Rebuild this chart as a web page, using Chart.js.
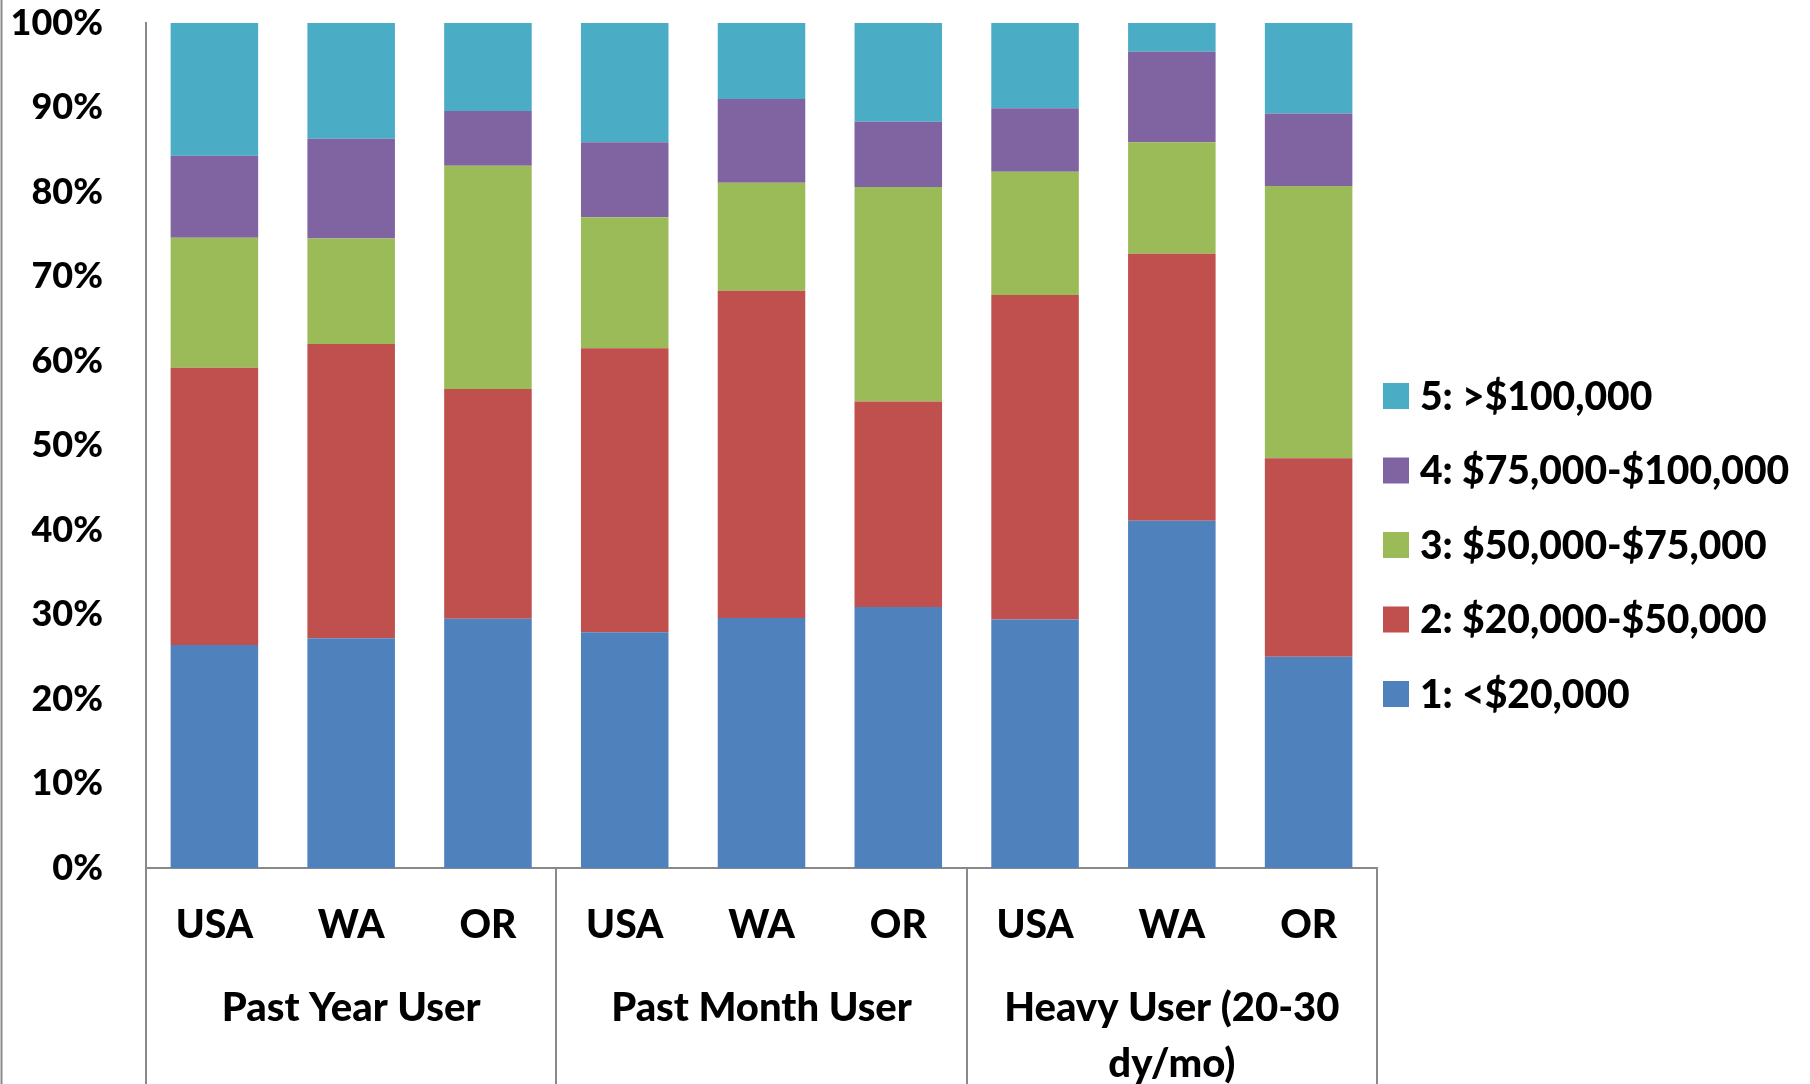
<!DOCTYPE html>
<html>
<head>
<meta charset="utf-8">
<script src="https://cdn.jsdelivr.net/npm/chart.js@4"></script>
<style>
  html, body { margin: 0; padding: 0; background: #fff; }
  #wrap { width: 1810px; height: 1084px; position: relative; }
</style>
</head>
<body>
<div id="wrap"><canvas id="incomeChart" width="1810" height="1084"></canvas></div>
<script>
// Categories
const states = ['USA', 'WA', 'OR', 'USA', 'WA', 'OR', 'USA', 'WA', 'OR'];
const groups = ['Past Year User', 'Past Month User', ['Heavy User (20-30', 'dy/mo)']];
const yTicks = [0, 10, 20, 30, 40, 50, 60, 70, 80, 90, 100];

// Share of each income band (%)
const under20k   = [26.4, 27.2, 29.5, 27.9, 29.6, 30.9, 29.4, 41.1, 25.0];
const from20to50 = [32.8, 34.8, 27.2, 33.6, 38.7, 24.3, 38.4, 31.6, 23.5];
const from50to75 = [15.4, 12.5, 26.4, 15.5, 12.8, 25.4, 14.6, 13.2, 32.2];
const from75to100 = [9.7, 11.8, 6.5, 8.9, 9.9, 7.7, 7.5, 10.7, 8.6];
const over100k   = [15.7, 13.7, 10.4, 14.1, 9.0, 11.7, 10.1, 3.4, 10.7];

const seriesNames = ['1: <$20,000', '2: $20,000-$50,000', '3: $50,000-$75,000', '4: $75,000-$100,000', '5: >$100,000'];
const seriesColors = ['#4F81BD', '#C0504D', '#9BBB59', '#8064A2', '#4BACC6'];

const FONT = 'Lato, "Open Sans", sans-serif';
const AXIS_GREY = '#898989';

// Separator lines under the axis + the legend on the right
const framePlugin = {
    id: 'frame',
    afterDraw(chart) {
        const ctx = chart.ctx;
        const area = chart.chartArea;
        const x = chart.scales.x;
        const h = chart.height;
        ctx.save();
        ctx.strokeStyle = AXIS_GREY;
        ctx.lineWidth = 2;
        const cuts = [area.left, x.getPixelForValue(2.5), x.getPixelForValue(5.5), area.right];
        cuts.forEach(function(px) {
            ctx.beginPath();
            ctx.moveTo(Math.round(px), area.bottom);
            ctx.lineTo(Math.round(px), h);
            ctx.stroke();
        });
        // outer chart border on the left edge
        ctx.beginPath();
        ctx.moveTo(1.5, 0);
        ctx.lineTo(1.5, h);
        ctx.stroke();

        // legend, top item is the last series
        const ds = chart.data.datasets;
        const boxX = 1383, textX = 1420, firstY = 396, step = 74.5, box = 26;
        ctx.font = '900 39px ' + FONT;
        ctx.textBaseline = 'middle';
        ctx.textAlign = 'left';
        for (let i = ds.length - 1, row = 0; i >= 0; i--, row++) {
            const cy = firstY + row * step;
            ctx.fillStyle = ds[i].backgroundColor;
            ctx.fillRect(boxX, cy - box / 2, box, box);
            ctx.fillStyle = '#000';
            ctx.fillText(ds[i].label, textX, cy + 1);
        }
        ctx.restore();
    }
};

const seriesData = [under20k, from20to50, from50to75, from75to100, over100k];

new Chart(document.getElementById('incomeChart').getContext('2d'), {
    type: 'bar',
    data: {
        labels: states,
        datasets: seriesData.map(function(vals, i) {
            return {
                label: seriesNames[i],
                data: vals,
                backgroundColor: seriesColors[i],
                borderWidth: 0,
                categoryPercentage: 1.0,
                barPercentage: 0.64
            };
        })
    },
    options: {
        responsive: false,
        animation: false,
        layout: { padding: { top: 23, right: 433, left: 0, bottom: 0 } },
        plugins: {
            legend: { display: false },
            tooltip: { enabled: false }
        },
        scales: {
            x: {
                stacked: true,
                position: 'bottom',
                grid: { display: false, drawTicks: false },
                border: { display: true, color: AXIS_GREY, width: 2 },
                ticks: {
                    color: '#000',
                    padding: 34,
                    maxRotation: 0,
                    autoSkip: false,
                    font: { family: FONT, size: 39, weight: '900', lineHeight: 1.2 }
                },
                afterFit: function(scale) { scale.height = 80; }
            },
            x2: {
                type: 'category',
                labels: groups,
                position: 'bottom',
                offset: true,
                grid: { display: false, drawTicks: false },
                border: { display: false },
                ticks: {
                    color: '#000',
                    padding: 32,
                    maxRotation: 0,
                    autoSkip: false,
                    font: { family: FONT, size: 40, weight: '900', lineHeight: 1.4 }
                },
                afterFit: function(scale) { scale.height = 136; }
            },
            y: {
                stacked: true,
                min: 0,
                max: 100,
                afterBuildTicks: function(scale) {
                    scale.ticks = yTicks.map(function(v) { return { value: v }; });
                },
                grid: { display: false, drawTicks: false },
                border: { display: true, color: AXIS_GREY, width: 2 },
                ticks: {
                    color: '#000',
                    padding: 43,
                    font: { family: FONT, size: 36, weight: '900', lineHeight: 1.2 },
                    callback: function(v) { return v + '%'; }
                },
                afterFit: function(scale) {
                    scale.width = 146;
                    scale.paddingTop = 0;
                    scale.paddingBottom = 0;
                }
            }
        }
    },
    plugins: [framePlugin]
});
</script>
</body>
</html>
